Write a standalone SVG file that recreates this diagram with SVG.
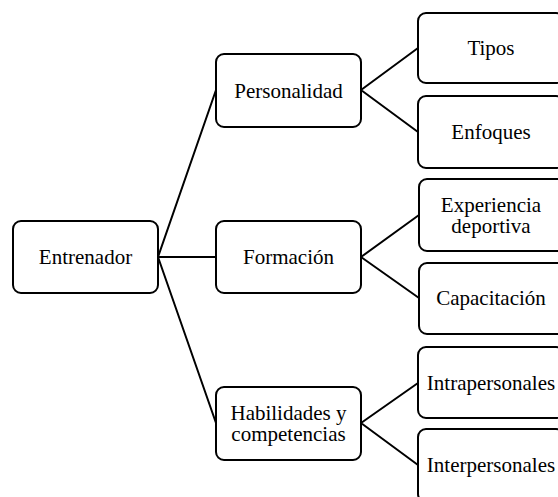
<svg xmlns="http://www.w3.org/2000/svg" width="558" height="497" viewBox="0 0 558 497">
  <style>
    .box { fill: #ffffff; stroke: #000000; stroke-width: 2; }
    .link { fill: none; stroke: #000000; stroke-width: 2; }
    text { font-family: "Liberation Serif", "Times New Roman", serif; font-size: 21px; fill: #000000; text-anchor: middle; }
  </style>
  <rect width="558" height="497" fill="#ffffff"/>

  <g id="connectors">
    <path class="link" d="M158,257 L216,90 M158,257 L216,257 M158,257 L216,423"/>
    <path class="link" d="M361,90 L418,48 M361,90 L418,132"/>
    <path class="link" d="M361,257 L419,215 M361,257 L419,298"/>
    <path class="link" d="M361,423 L418,383 M361,423 L418,465"/>
  </g>

  <g id="entrenador">
    <rect class="box" x="13" y="221" width="145" height="72" rx="8"/>
    <text x="85.5" y="264">Entrenador</text>
  </g>

  <g id="personalidad">
    <rect class="box" x="216" y="54" width="145" height="73" rx="8"/>
    <text x="288.5" y="98">Personalidad</text>
  </g>
  <g id="formacion">
    <rect class="box" x="216" y="221" width="145" height="72" rx="8"/>
    <text x="288.5" y="264">Formación</text>
  </g>
  <g id="habilidades">
    <rect class="box" x="216" y="387" width="145" height="73" rx="8"/>
    <text x="288.5" y="420">Habilidades y</text>
    <text x="288.5" y="441">competencias</text>
  </g>

  <g id="tipos">
    <rect class="box" x="418" y="13" width="146" height="70" rx="8"/>
    <text x="491" y="55">Tipos</text>
  </g>
  <g id="enfoques">
    <rect class="box" x="418" y="96" width="146" height="72" rx="8"/>
    <text x="491" y="139">Enfoques</text>
  </g>
  <g id="experiencia">
    <rect class="box" x="419" y="179" width="146" height="72" rx="8"/>
    <text x="491" y="212">Experiencia</text>
    <text x="491" y="233">deportiva</text>
  </g>
  <g id="capacitacion">
    <rect class="box" x="419" y="263" width="146" height="71" rx="8"/>
    <text x="491" y="305">Capacitación</text>
  </g>
  <g id="intrapersonales">
    <rect class="box" x="418" y="347" width="146" height="71" rx="8"/>
    <text x="491" y="390">Intrapersonales</text>
  </g>
  <g id="interpersonales">
    <rect class="box" x="418" y="429" width="146" height="73" rx="8"/>
    <text x="491" y="472">Interpersonales</text>
  </g>
</svg>
